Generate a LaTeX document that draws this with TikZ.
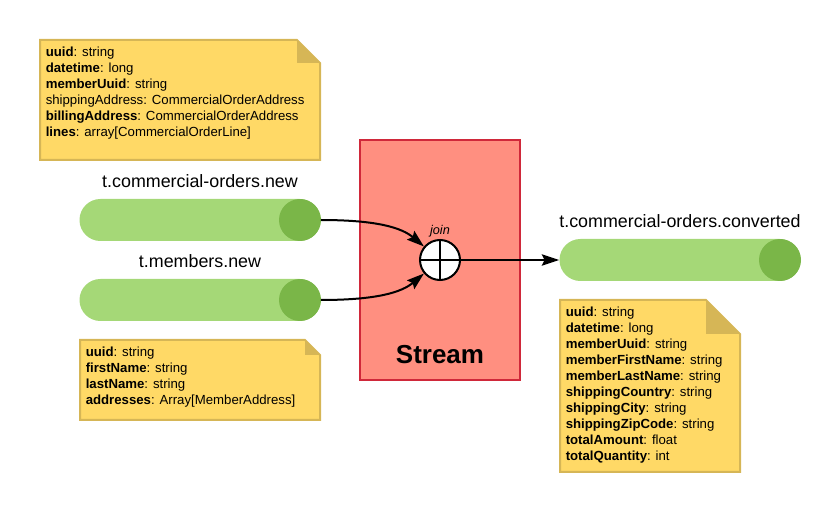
\documentclass[tikz,border=0pt]{standalone}
\usepackage{fontspec}
\setmainfont{Liberation Sans}
\usetikzlibrary{arrows.meta}
\definecolor{notefill}{HTML}{FFD966}
\definecolor{noteline}{HTML}{D6B656}
\definecolor{lgreen}{HTML}{A5D877}
\definecolor{dgreen}{HTML}{7AB648}
\definecolor{streamfill}{HTML}{FF8F80}
\definecolor{streamline}{HTML}{D0283A}
\newcommand\mynotebox[5]{%
  \filldraw[notefill, draw=noteline, line width=1.5pt, line join=miter]
    (#1,#2) -- (#3-#5,#2) -- (#3,#2+#5) -- (#3,#4) -- (#1,#4) -- cycle;
  \fill[noteline] (#3-#5,#2) -- (#3-#5,#2+#5) -- (#3,#2+#5) -- cycle;
}
\begin{document}
\begin{tikzpicture}[x=0.75pt,y=-0.75pt,
  pill/.style={fill=lgreen, draw=none, rounded corners=15.7pt, minimum width=180.75pt, minimum height=31.5pt, inner sep=0pt},
  endcap/.style={circle, fill=dgreen, draw=none, minimum size=31.5pt, inner sep=0pt},
  toplabel/.style={anchor=base, font=\fontsize{13.4}{15}\selectfont, inner sep=0pt},
  notetext/.style={anchor=north west, align=left, inner sep=0pt, font=\fontsize{9.9}{12}\selectfont},
  conn/.style={line width=1.5pt, -{Stealth[length=13pt,width=8.5pt,inset=2pt]}},
  streambox/.style={rectangle, fill=streamfill, draw=streamline, line width=1.1pt, minimum width=120pt, minimum height=180pt, inner sep=0pt},
  joinnode/.style={circle, fill=white, draw=black, line width=1.5pt, minimum size=30pt, inner sep=0pt}
]
\useasboundingbox (0,0) rectangle (840,513);

% notes
\mynotebox{40}{40}{320}{160}{23}
\node[notetext] (n1) at (45.5,46.5) {\textbf{uuid}: string\\\textbf{datetime}: long\\\textbf{memberUuid}: string\\shippingAddress: CommercialOrderAddress\\\textbf{billingAddress}: CommercialOrderAddress\\\textbf{lines}: array[CommercialOrderLine]};

\mynotebox{80}{340}{320}{420}{15}
\node[notetext] (n2) at (85.5,346.5) {\textbf{uuid}: string\\\textbf{firstName}: string\\\textbf{lastName}: string\\\textbf{addresses}: Array[MemberAddress]};

\mynotebox{560}{300}{740}{472}{34}
\node[notetext] (n3) at (565.5,306.5) {\textbf{uuid}: string\\\textbf{datetime}: long\\\textbf{memberUuid}: string\\\textbf{memberFirstName}: string\\\textbf{memberLastName}: string\\\textbf{shippingCountry}: string\\\textbf{shippingCity}: string\\\textbf{shippingZipCode}: string\\\textbf{totalAmount}: float\\\textbf{totalQuantity}: int};

% stream box
\node[streambox] (stream) at (440,260) {};
\node[anchor=base, inner sep=0pt, font=\fontsize{19.5}{22}\selectfont\bfseries] (streamlbl) at (440,364) {Stream};

% topics
\node[pill] (c1) at (200,220) {};
\node[endcap] (e1) at (300,220) {};
\node[toplabel] (l1) at (200,188) {t.commercial-orders.new};

\node[pill] (c2) at (200,300) {};
\node[endcap] (e2) at (300,300) {};
\node[toplabel] (l2) at (200,268) {t.members.new};

\node[pill] (c3) at (680,260) {};
\node[endcap] (e3) at (780,260) {};
\node[toplabel] (l3) at (680,228) {t.commercial-orders.converted};

% join
\node[joinnode] (join) at (440,260) {};
\draw[line width=1.5pt] (join.north) -- (join.south) (join.west) -- (join.east);
\node[anchor=base, inner sep=0pt, font=\fontsize{9.5}{10}\selectfont\itshape] (joinlbl) at (440,235) {join};

% connectors
\draw[conn] (c1.east) .. controls (378,220) and (402,228) .. (join);
\draw[conn] (c2.east) .. controls (378,300) and (402,292) .. (join);
\draw[conn] (join) -- (c3);
\end{tikzpicture}
\end{document}
